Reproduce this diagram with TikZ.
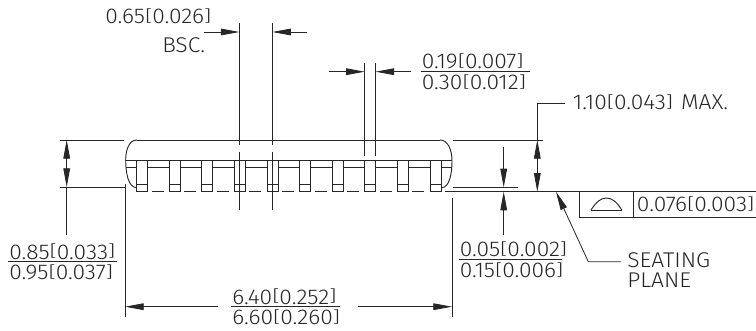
\documentclass[tikz,border=0pt]{standalone}
\usepackage{fontspec}
\usepackage{graphicx}
\setmainfont[FakeStretch=1.07]{Fira Sans Light}
\usetikzlibrary{arrows.meta}
\newcommand{\lbk}{\raisebox{0.11em}{\scalebox{1}[0.74]{[}}}
\newcommand{\rbk}{\raisebox{0.11em}{\scalebox{1}[0.74]{]}}}
\tikzset{
  dimline/.style={line width=0.6pt, black!85},
  dimarrow/.style={dimline, -{Triangle[length=14pt, width=5pt]}},
  bodyline/.style={line width=0.7pt, black!85},
  dimtext/.style={anchor=base west, font=\fontsize{16}{17}\selectfont, inner sep=0pt, black!85}
}
\begin{document}
\begin{tikzpicture}[x=0.75pt, y=-0.75pt]
\useasboundingbox (0,0) rectangle (756,331);

% Draw the package outline
\draw[bodyline] (137,140) -- (440,140);
\draw[bodyline] (137,140) .. controls (129,140) and (125.7,150) .. (125.7,160) .. controls (125.7,172) and (128,187.7) .. (136.7,187.7);
\draw[bodyline] (440,140) .. controls (448,140) and (452,150) .. (452,161) .. controls (452,175) and (449,187.7) .. (441.5,187.7);
\draw[bodyline] (125.7,160) -- (452,160);
\draw[bodyline] (125.7,167.3) -- (136.7,167.3);
\draw[bodyline] (441,167.3) -- (452,167.3);

% Draw the leads
\draw[bodyline] (136.7,160) rectangle +(11,31.7);
\draw[bodyline] (136.7,184.3) -- +(11,0);
\draw[bodyline] (169.3,160) rectangle +(11,31.7);
\draw[bodyline] (169.3,184.3) -- +(11,0);
\draw[bodyline] (201.9,160) rectangle +(11,31.7);
\draw[bodyline] (201.9,184.3) -- +(11,0);
\draw[bodyline] (234.5,160) rectangle +(11,31.7);
\draw[bodyline] (234.5,184.3) -- +(11,0);
\draw[bodyline] (267.1,160) rectangle +(11,31.7);
\draw[bodyline] (267.1,184.3) -- +(11,0);
\draw[bodyline] (299.7,160) rectangle +(11,31.7);
\draw[bodyline] (299.7,184.3) -- +(11,0);
\draw[bodyline] (332.3,160) rectangle +(11,31.7);
\draw[bodyline] (332.3,184.3) -- +(11,0);
\draw[bodyline] (364.9,160) rectangle +(11,31.7);
\draw[bodyline] (364.9,184.3) -- +(11,0);
\draw[bodyline] (397.5,160) rectangle +(11,31.7);
\draw[bodyline] (397.5,184.3) -- +(11,0);
\draw[bodyline] (430.1,160) rectangle +(11,31.7);
\draw[bodyline] (430.1,184.3) -- +(11,0);

% Draw the gaps between the leads
\draw[bodyline] (147.7,167.3) -- +(21.6,0);
\draw[bodyline] (151.5,191.2) -- +(12,0);
\draw[bodyline] (180.3,167.3) -- +(21.6,0);
\draw[bodyline] (184.1,191.2) -- +(12,0);
\draw[bodyline] (212.9,167.3) -- +(21.6,0);
\draw[bodyline] (216.7,191.2) -- +(12,0);
\draw[bodyline] (245.5,167.3) -- +(21.6,0);
\draw[bodyline] (249.3,191.2) -- +(12,0);
\draw[bodyline] (278.1,167.3) -- +(21.6,0);
\draw[bodyline] (281.9,191.2) -- +(12,0);
\draw[bodyline] (310.7,167.3) -- +(21.6,0);
\draw[bodyline] (314.5,191.2) -- +(12,0);
\draw[bodyline] (343.3,167.3) -- +(21.6,0);
\draw[bodyline] (347.1,191.2) -- +(12,0);
\draw[bodyline] (375.9,167.3) -- +(21.6,0);
\draw[bodyline] (379.7,191.2) -- +(12,0);
\draw[bodyline] (408.5,167.3) -- +(21.6,0);
\draw[bodyline] (412.3,191.2) -- +(12,0);

% Extension lines
\draw[dimline] (60,140) -- (124,140);
\draw[dimline] (60,187) -- (125,187);
\draw[dimline] (125,184) -- (125,317);
\draw[dimline] (452,198) -- (452,317);
\draw[dimline] (239.5,23) -- (239.5,145);
\draw[dimline] (239.5,152) -- (239.5,210);
\draw[dimline] (272.3,23) -- (272.3,145);
\draw[dimline] (272.3,152) -- (272.3,210);
\draw[dimline] (364.7,63) -- (364.7,156);
\draw[dimline] (375.5,63) -- (375.5,156);
\draw[dimline] (452.7,140) -- (543,140);
\draw[dimline] (452.7,187.3) -- (517.7,187.3);
\draw[dimline] (444.7,191.7) -- (756,191.7);

% Pitch dimension
\coordinate (pitchL) at (204,32);
\coordinate (pitchLtip) at (239.5,32);
\coordinate (pitchR) at (307,32);
\coordinate (pitchRtip) at (272.3,32);
\draw[dimarrow] (pitchL) -- (pitchLtip);
\draw[dimarrow] (pitchR) -- (pitchRtip);
\node[dimtext] (pitchtext) at (105,24) {0.65\lbk 0.026\rbk};
\node[dimtext] (bsctext) at (162,53) {BSC.};

% Lead width dimension
\coordinate (leadL) at (329,71.7);
\coordinate (leadLtip) at (364.7,71.7);
\coordinate (leadR) at (411,71.7);
\coordinate (leadRtip) at (375.5,71.7);
\draw[dimarrow] (leadL) -- (leadLtip);
\draw[dimarrow] (leadR) -- (leadRtip);
\node[dimtext] (leadtop) at (421.5,69) {0.19\lbk 0.007\rbk};
\node[dimtext] (leadbot) at (421.5,89.5) {0.30\lbk 0.012\rbk};
\draw[dimline] (420.7,71.7) -- (530,71.7);

% Body height dimension
\coordinate (bodymid) at (66.7,163);
\coordinate (bodyend) at (66.7,235);
\coordinate (bodytop) at (66.7,140);
\coordinate (bodybot) at (66.7,187);
\draw[dimarrow] (bodymid) -- (bodytop);
\draw[dimarrow] (bodymid) -- (bodybot);
\draw[dimline] (bodybot) -- (bodyend);
\node[dimtext] (bodytoptext) at (9,259) {0.85\lbk 0.033\rbk};
\node[dimtext] (bodybottext) at (9,279.5) {0.95\lbk 0.037\rbk};
\draw[dimline] (8,261.7) -- (116.7,261.7);

% Overall width dimension
\coordinate (widthL) at (218,306.7);
\coordinate (widthLtip) at (125,306.7);
\coordinate (widthR) at (358,306.7);
\coordinate (widthRtip) at (452,306.7);
\draw[dimarrow] (widthL) -- (widthLtip);
\draw[dimarrow] (widthR) -- (widthRtip);
\node[dimtext] (widthtop) at (232,304) {6.40\lbk 0.252\rbk};
\node[dimtext] (widthbot) at (232,324.5) {6.60\lbk 0.260\rbk};
\draw[dimline] (230.7,306.7) -- (340,306.7);

% Standoff dimension
\coordinate (standtop) at (503.7,147);
\coordinate (standtip) at (503.7,187.3);
\coordinate (standbot) at (503.7,235);
\coordinate (standtipb) at (503.7,191.7);
\draw[dimarrow] (standtop) -- (standtip);
\draw[dimarrow] (standbot) -- (standtipb);
\node[dimtext] (standtoptext) at (459.5,257) {0.05\lbk 0.002\rbk};
\node[dimtext] (standbottext) at (459.5,277.5) {0.15\lbk 0.006\rbk};
\draw[dimline] (459,259.3) -- (561.7,259.3);

% Maximum height dimension
\coordinate (maxelbow) at (537.3,103);
\coordinate (maxend) at (565,103);
\coordinate (maxtop) at (537.3,140);
\coordinate (maxmid) at (537.3,166);
\coordinate (maxbot) at (537.3,191.7);
\draw[dimline] (maxend) -- (maxelbow) -- (maxtop);
\draw[dimarrow] (maxmid) -- (maxtop);
\draw[dimarrow] (maxmid) -- (maxbot);
\node[dimtext] (maxtext) at (572.7,110) {1.10\lbk 0.043\rbk\hspace{6pt}MAX.};

% Seating plane leader
\node[dimtext] (seattext) at (627,267.5) {SEATING};
\node[dimtext] (planetext) at (627,287.5) {PLANE};
\coordinate (seatend) at (621,261.7);
\coordinate (seatelbow) at (588.3,261.7);
\coordinate (seattip) at (556,191.7);
\draw[dimarrow] (seatend) -- (seatelbow) -- (seattip);

% Flatness box
\draw[bodyline] (579.3,191.7) -- (579.3,217) -- (756,217);
\draw[dimline] (633,191.7) -- (633,217);
\draw[bodyline] (591,210) -- (621.7,210);
\draw[bodyline] (591,210) .. controls (596,202) and (601,198) .. (606.3,198) .. controls (612,198) and (617,202) .. (621.7,210);
\node[dimtext] (flattext) at (636.7,212) {0.076\lbk 0.003\rbk};
\end{tikzpicture}
\end{document}
